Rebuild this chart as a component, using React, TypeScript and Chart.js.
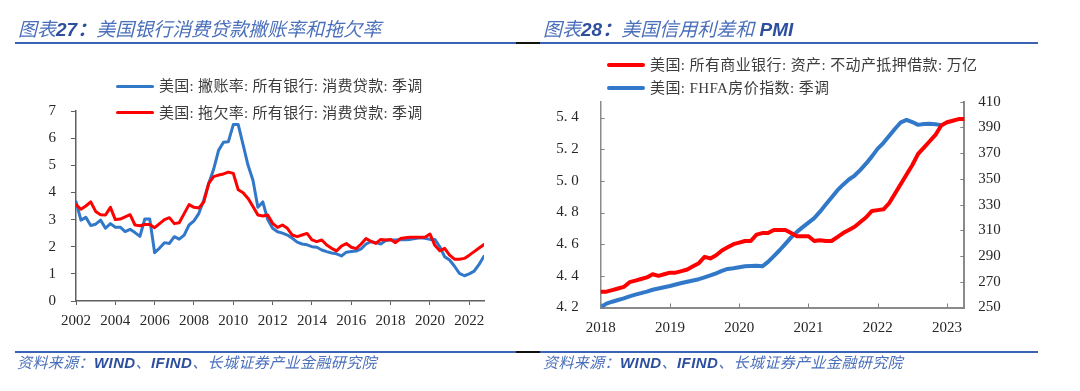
import React, { useEffect, useRef } from "react";
import { Chart, registerables } from "chart.js";

Chart.register(...registerables);

// ---------- Left chart: quarterly, 2002Q1 – 2022Q4 ----------
const LEFT_START_YEAR = 2002;
const LEFT_STEP = 0.25;
const CHARGE_OFF_RATE = [
  3.66, 2.98, 3.08, 2.78, 2.83, 2.98, 2.68, 2.85,
  2.72, 2.72, 2.56, 2.64, 2.52, 2.38, 3.02, 3.02,
  1.78, 1.95, 2.15, 2.12, 2.37, 2.28, 2.43, 2.8,
  2.95, 3.23, 3.72, 4.33, 4.85, 5.55, 5.85, 5.87,
  6.5, 6.5, 5.75, 5.0, 4.45, 3.45, 3.65, 3.0,
  2.68, 2.55, 2.5, 2.43, 2.31, 2.17, 2.1, 2.07,
  2.0, 1.98, 1.88, 1.82, 1.77, 1.74, 1.66, 1.8,
  1.82, 1.84, 1.92, 2.1, 2.19, 2.15, 2.1, 2.23,
  2.25, 2.25, 2.27, 2.26, 2.27, 2.3, 2.33, 2.31,
  2.27, 2.27, 2.0, 1.63, 1.51, 1.28, 1.02, 0.93,
  1.0, 1.1, 1.35, 1.65,
];
const DELINQUENCY_RATE = [
  3.55, 3.38, 3.5, 3.65, 3.3, 3.18, 3.17, 3.45,
  3.0, 3.02, 3.1, 3.18, 2.8, 2.77, 2.82, 2.82,
  2.7, 2.85, 3.0, 3.07, 2.85, 2.88, 3.22, 3.55,
  3.45, 3.43, 3.65, 4.33, 4.58, 4.64, 4.68, 4.75,
  4.7, 4.1, 3.99, 3.78, 3.48, 3.17, 3.13, 3.17,
  2.86, 2.71, 2.8, 2.68, 2.43, 2.37, 2.43, 2.49,
  2.25, 2.19, 2.25, 2.06, 1.94, 1.85, 2.02, 2.12,
  1.98, 1.93, 2.1, 2.3, 2.2, 2.12, 2.27, 2.25,
  2.27, 2.15, 2.3, 2.33, 2.35, 2.35, 2.35, 2.35,
  2.47, 2.05, 1.85, 1.94, 1.69, 1.54, 1.54, 1.57,
  1.69, 1.82, 1.95, 2.08,
];
const LEFT_X_TICKS = [2002, 2004, 2006, 2008, 2010, 2012, 2014, 2016, 2018, 2020, 2022];
const LEFT_Y_TICKS = [0, 1, 2, 3, 4, 5, 6, 7];
const LEFT_LABELS = [
  "美国: 撇账率: 所有银行: 消费贷款: 季调",
  "美国: 拖欠率: 所有银行: 消费贷款: 季调",
];

// ---------- Right chart: monthly, 2018-01 – 2023-04 ----------
const RIGHT_START_YEAR = 2018;
const RIGHT_STEP = 1 / 12;
const MORTGAGE_LOANS = [
  4.30, 4.30, 4.31, 4.32, 4.33, 4.36, 4.37, 4.38, 4.39, 4.41, 4.40, 4.41,
  4.42, 4.42, 4.43, 4.44, 4.46, 4.48, 4.52, 4.51, 4.53, 4.56, 4.58, 4.60,
  4.61, 4.62, 4.62, 4.66, 4.67, 4.67, 4.69, 4.69, 4.69, 4.67, 4.65, 4.65,
  4.65, 4.62, 4.625, 4.62, 4.62, 4.645, 4.67, 4.69, 4.71, 4.74, 4.77, 4.81,
  4.815, 4.82, 4.86, 4.92, 4.98, 5.04, 5.10, 5.17, 5.21, 5.25, 5.29, 5.35,
  5.37, 5.38, 5.39, 5.39,
];
const FHFA_HPI = [
  250.2, 253.0, 254.5, 255.8, 257.1, 258.7, 260.0, 261.2, 262.3, 263.8, 264.8, 265.8,
  266.7, 267.9, 269.0, 270.0, 271.0, 272.0, 273.4, 274.9, 276.6, 278.5, 280.0, 280.5,
  281.3, 282.0, 282.3, 282.5, 282.0, 285.5, 290.0, 294.5, 299.5, 304.5, 308.8, 312.5,
  316.0, 319.5, 324.5, 330.0, 335.5, 341.0, 345.5, 349.5, 352.6, 357.0, 362.0, 367.5,
  373.5, 378.0, 383.5, 389.0, 394.0, 395.8, 394.2, 392.0, 392.7, 392.8, 392.5, 391.8,
];
const RIGHT_X_TICKS = [2018, 2019, 2020, 2021, 2022, 2023];
const RIGHT_Y_TICKS = [4.2, 4.4, 4.6, 4.8, 5.0, 5.2, 5.4];
const RIGHT_Y1_TICKS = [250, 270, 290, 310, 330, 350, 370, 390, 410];
const RIGHT_LABELS = [
  "美国: 所有商业银行: 资产: 不动产抵押借款: 万亿",
  "美国: FHFA房价指数: 季调",
];

const BLUE = "#3278c8";
const RED = "#ff0000";
const TICK_FONT = { family: '"Liberation Serif", "Times New Roman", serif', size: 15 };
const TICK_COLOR = "#262626";
const CJK_FONT = '"Liberation Serif", "Noto Sans CJK SC", serif';
const TITLE_FONT = '"Liberation Sans", "Noto Sans CJK SC", sans-serif';

const toXY = (values: number[], start: number, step: number) =>
  values.map((v, i) => ({ x: start + i * step, y: v }));

const setTicks = (list: number[]) => (scale: any) => {
  scale.ticks = list.map((value) => ({ value }));
};

// draws short tick marks pointing into the plot area
const inwardTicks = {
  id: "inwardTicks",
  afterDraw(chart: any) {
    const { ctx, chartArea, scales } = chart;
    const len = 4;
    ctx.save();
    ctx.strokeStyle = "#808080";
    ctx.lineWidth = 1;
    ctx.beginPath();
    const x = scales.x;
    x.ticks.forEach((t: any) => {
      const p = Math.round(x.getPixelForValue(t.value)) + 0.5;
      ctx.moveTo(p, chartArea.bottom);
      ctx.lineTo(p, chartArea.bottom - len);
    });
    const y = scales.y;
    y.ticks.forEach((t: any) => {
      const p = Math.round(y.getPixelForValue(t.value)) + 0.5;
      ctx.moveTo(chartArea.left, p);
      ctx.lineTo(chartArea.left + len, p);
    });
    const y1 = scales.y1;
    y1.ticks.forEach((t: any) => {
      const p = Math.round(y1.getPixelForValue(t.value)) + 0.5;
      ctx.moveTo(chartArea.right, p);
      ctx.lineTo(chartArea.right - len, p);
    });
    ctx.stroke();
    ctx.restore();
  },
};

function leftConfig(): any {
  const axisColor = "#5f5f5f";
  return {
    type: "line",
    data: {
      datasets: [
        {
          label: LEFT_LABELS[0],
          data: toXY(CHARGE_OFF_RATE, LEFT_START_YEAR, LEFT_STEP),
          borderColor: BLUE,
          borderWidth: 3,
          pointRadius: 0,
          order: 1,
        },
        {
          label: LEFT_LABELS[1],
          data: toXY(DELINQUENCY_RATE, LEFT_START_YEAR, LEFT_STEP),
          borderColor: RED,
          borderWidth: 3,
          pointRadius: 0,
          order: 0,
        },
      ],
    },
    options: {
      responsive: false,
      animation: false,
      events: [],
      layout: { padding: { left: 0, top: 111, right: 56, bottom: 0 } },
      elements: { line: { borderJoinStyle: "round", borderCapStyle: "round", tension: 0 } },
      plugins: { legend: { display: false }, tooltip: { enabled: false } },
      scales: {
        x: {
          type: "linear",
          min: 2002,
          max: 2022.75,
          afterBuildTicks: setTicks(LEFT_X_TICKS),
          afterFit: (s: any) => { s.height = 90; },
          ticks: {
            callback: (v: any) => String(v),
            font: TICK_FONT,
            color: TICK_COLOR,
            padding: 7,
            maxRotation: 0,
            autoSkip: false,
          },
          grid: { display: true, drawOnChartArea: false, drawTicks: true, tickLength: 4, color: axisColor },
          border: { display: true, color: axisColor, width: 1.5 },
        },
        y: {
          min: 0,
          max: 7,
          afterBuildTicks: setTicks(LEFT_Y_TICKS),
          afterFit: (s: any) => { s.width = 76; },
          ticks: { callback: (v: any) => String(v), font: TICK_FONT, color: TICK_COLOR, padding: 15 },
          grid: { display: true, drawOnChartArea: false, drawTicks: true, tickLength: 5, color: axisColor },
          border: { display: true, color: axisColor, width: 1.5 },
        },
      },
    },
  };
}

function rightConfig(): any {
  const axisColor = "#8a8a8a";
  const noGrid = { display: false, drawTicks: false, tickLength: 0 };
  return {
    type: "line",
    data: {
      datasets: [
        {
          label: RIGHT_LABELS[0],
          data: toXY(MORTGAGE_LOANS, RIGHT_START_YEAR, RIGHT_STEP),
          borderColor: RED,
          borderWidth: 4,
          pointRadius: 0,
          yAxisID: "y",
        },
        {
          label: RIGHT_LABELS[1],
          data: toXY(FHFA_HPI, RIGHT_START_YEAR, RIGHT_STEP),
          borderColor: BLUE,
          borderWidth: 4,
          pointRadius: 0,
          yAxisID: "y1",
        },
      ],
    },
    plugins: [inwardTicks],
    options: {
      responsive: false,
      animation: false,
      events: [],
      layout: { padding: { left: 0, top: 101.7, right: 0, bottom: 0 } },
      elements: { line: { borderJoinStyle: "round", borderCapStyle: "round", tension: 0 } },
      plugins: { legend: { display: false }, tooltip: { enabled: false } },
      scales: {
        x: {
          type: "linear",
          min: 2018,
          max: 2023.25,
          afterBuildTicks: setTicks(RIGHT_X_TICKS),
          afterFit: (s: any) => { s.height = 83.5; },
          ticks: {
            callback: (v: any) => String(v),
            font: TICK_FONT,
            color: TICK_COLOR,
            padding: 12,
            maxRotation: 0,
            autoSkip: false,
          },
          grid: noGrid,
          border: { display: true, color: axisColor, width: 2 },
        },
        y: {
          position: "left",
          min: 4.2,
          max: 5.5,
          afterBuildTicks: setTicks(RIGHT_Y_TICKS),
          afterFit: (s: any) => { s.width = 60.7; },
          ticks: {
            callback: (v: any) => Number(v).toFixed(1).replace(".", ". "),
            font: TICK_FONT,
            color: TICK_COLOR,
            padding: 22,
          },
          grid: noGrid,
          border: { display: true, color: axisColor, width: 1.5 },
        },
        y1: {
          position: "right",
          min: 250,
          max: 410,
          afterBuildTicks: setTicks(RIGHT_Y1_TICKS),
          afterFit: (s: any) => { s.width = 115.7; },
          ticks: { callback: (v: any) => String(v), font: TICK_FONT, color: TICK_COLOR, padding: 14 },
          grid: noGrid,
          border: { display: true, color: axisColor, width: 2 },
        },
      },
    },
  };
}

function ChartCanvas({ makeConfig, left, top, width, height }: any) {
  const ref = useRef<HTMLCanvasElement>(null);
  useEffect(() => {
    const chart = new Chart(ref.current as HTMLCanvasElement, makeConfig());
    return () => chart.destroy();
  }, []);
  return (
    <canvas
      ref={ref}
      width={width}
      height={height}
      style={{ position: "absolute", left, top, width, height }}
    />
  );
}

const abs = (left: number, top: number, extra: any = {}) => ({
  position: "absolute" as const,
  left,
  top,
  ...extra,
});

function Title({ left, num, text, tail }: any) {
  return (
    <div
      style={abs(left, 19, {
        fontFamily: TITLE_FONT,
        fontSize: 19,
        lineHeight: "22px",
        fontStyle: "italic",
        color: "#4a6fbb",
        whiteSpace: "nowrap",
      })}
    >
      <span>图表</span>
      <span style={{ fontWeight: 700, color: "#2d4f9e" }}>{num}：</span>
      <span>{text}</span>
      {tail ? <span style={{ fontWeight: 700, color: "#2d4f9e" }}>{tail}</span> : null}
    </div>
  );
}

function Source({ left }: any) {
  return (
    <div
      style={abs(left, 354, {
        fontFamily: TITLE_FONT,
        fontSize: 15,
        lineHeight: "18px",
        fontStyle: "italic",
        color: "#4a6fbb",
        whiteSpace: "nowrap",
        letterSpacing: "0.4px",
      })}
    >
      <span>资料来源：</span>
      <span style={{ fontWeight: 700, color: "#2d4f9e" }}>WIND</span>
      <span>、</span>
      <span style={{ fontWeight: 700, color: "#2d4f9e" }}>IFIND</span>
      <span>、长城证券产业金融研究院</span>
    </div>
  );
}

function LegendItem({ x, y, color, thick, text, gap, spacing }: any) {
  return (
    <>
      <div
        style={abs(x, y - thick / 2, {
          width: 38,
          height: thick,
          background: color,
          borderRadius: thick / 2,
        })}
      />
      <div
        style={abs(x + 38 + gap, y - 10, {
          fontFamily: CJK_FONT,
          fontSize: 15,
          lineHeight: "20px",
          color: "#3c3c3c",
          whiteSpace: "nowrap",
          letterSpacing: spacing,
        })}
      >
        {text}
      </div>
    </>
  );
}

export default function App() {
  return (
    <div
      style={{
        position: "absolute",
        left: 0,
        top: 0,
        width: 1080,
        height: 391,
        background: "#ffffff",
        overflow: "hidden",
      }}
    >
      <ChartCanvas makeConfig={leftConfig} left={0} top={0} width={540} height={391} />
      <ChartCanvas makeConfig={rightConfig} left={540} top={0} width={540} height={391} />

      <Title left={18} num="27" text="美国银行消费贷款撇账率和拖欠率" />
      <Title left={543} num="28" text="美国信用利差和 " tail="PMI" />

      <div style={abs(15, 42, { width: 501, height: 2, background: "#3a63b5" })} />
      <div style={abs(516, 42, { width: 24, height: 2, background: "#111" })} />
      <div style={abs(540, 42, { width: 498, height: 2, background: "#3a63b5" })} />

      <div style={abs(15, 351, { width: 501, height: 2, background: "#3a63b5" })} />
      <div style={abs(516, 351, { width: 24, height: 2, background: "#111" })} />
      <div style={abs(540, 351, { width: 498, height: 2, background: "#3a63b5" })} />

      <Source left={17} />
      <Source left={543} />

      <LegendItem x={116} y={86} color={BLUE} thick={3} text={LEFT_LABELS[0]} gap={5} spacing="0.3px" />
      <LegendItem x={116} y={112.5} color={RED} thick={3} text={LEFT_LABELS[1]} gap={5} spacing="0.3px" />
      <LegendItem x={607} y={65} color={RED} thick={4} text={RIGHT_LABELS[0]} gap={5} spacing="0.4px" />
      <LegendItem x={607} y={87.5} color={BLUE} thick={4} text={RIGHT_LABELS[1]} gap={5} spacing="0.4px" />
    </div>
  );
}
